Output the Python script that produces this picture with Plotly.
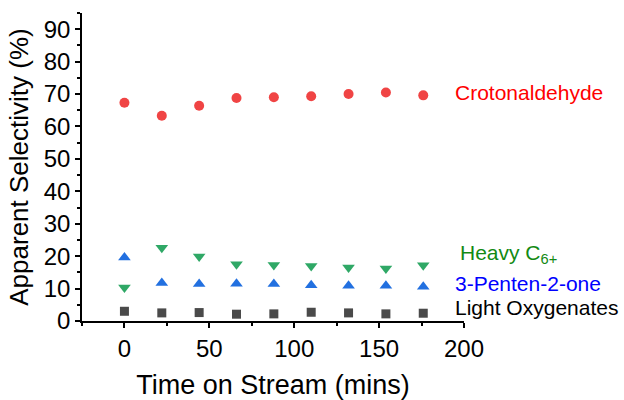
import plotly.graph_objects as go

time_min = [0, 22, 44, 66, 88, 110, 132, 154, 176]
crotonaldehyde = [67.3, 63.3, 66.4, 68.8, 69.0, 69.3, 70.0, 70.5, 69.6]
heavy_c6 = [10.3, 22.6, 19.9, 17.5, 17.3, 17.0, 16.5, 16.2, 17.2]
pentenone = [19.6, 11.7, 11.4, 11.5, 11.4, 11.0, 10.9, 10.9, 10.6]
light_oxy = [3.0, 2.5, 2.6, 2.1, 2.2, 2.7, 2.5, 2.2, 2.4]

series = [
    ("Crotonaldehyde", crotonaldehyde, "circle", "#f04444", 10),
    ("Heavy C<sub>6+</sub>", heavy_c6, "triangle-down", "#2fa866", 11),
    ("3-Penten-2-one", pentenone, "triangle-up", "#2270e0", 11),
    ("Light Oxygenates", light_oxy, "square", "#4a4a4a", 9),
]

fig = go.Figure()
for name, vals, sym, col, sz in series:
    fig.add_trace(go.Scatter(x=time_min, y=vals, mode="markers", name=name,
                             marker=dict(symbol=sym, color=col, size=sz, line=dict(width=0)),
                             cliponaxis=False))

labels = [
    ("Crotonaldehyde", 193.5, 70.4, "#ff0000"),
    ("Heavy C<sub>6+</sub>", 196.5, 20.6, "#138a13"),
    ("3-Penten-2-one", 193.5, 11.7, "#0000ff"),
    ("Light Oxygenates", 193.5, 4.3, "#000000"),
]
for txt, x, y, c in labels:
    fig.add_annotation(x=x, y=y, text=txt, showarrow=False, xanchor="left", yanchor="middle",
                       font=dict(family="Liberation Sans, Arial", size=21, color=c))

axis_common = dict(showline=True, linecolor="black", linewidth=1.5, ticks="outside",
                   ticklen=5, tickwidth=1.5, tickcolor="black", showgrid=False, zeroline=False,
                   automargin=False,
                   tickfont=dict(family="Liberation Sans, Arial", size=24, color="black"),
                   title_font=dict(family="Liberation Sans, Arial", size=26, color="black"))

fig.update_layout(
    width=624, height=400,
    margin=dict(l=82, r=160, t=13, b=79),
    plot_bgcolor="white", paper_bgcolor="white",
    showlegend=False,
    xaxis=dict(range=[-25, 200], tick0=0, dtick=50,
               minor=dict(ticks="outside", ticklen=3, dtick=25, tick0=0, tickcolor="black", tickwidth=1.5),
               title=dict(text="Time on Stream (mins)", standoff=20), **axis_common),
    yaxis=dict(range=[0, 95], tick0=0, dtick=10,
               minor=dict(ticks="outside", ticklen=3, dtick=5, tick0=0, tickcolor="black", tickwidth=1.5),
               title=dict(text="Apparent Selectivity (%)", standoff=8), **axis_common),
)
fig.update_xaxes(title_font_size=27)

fig.write_html("out.html")
